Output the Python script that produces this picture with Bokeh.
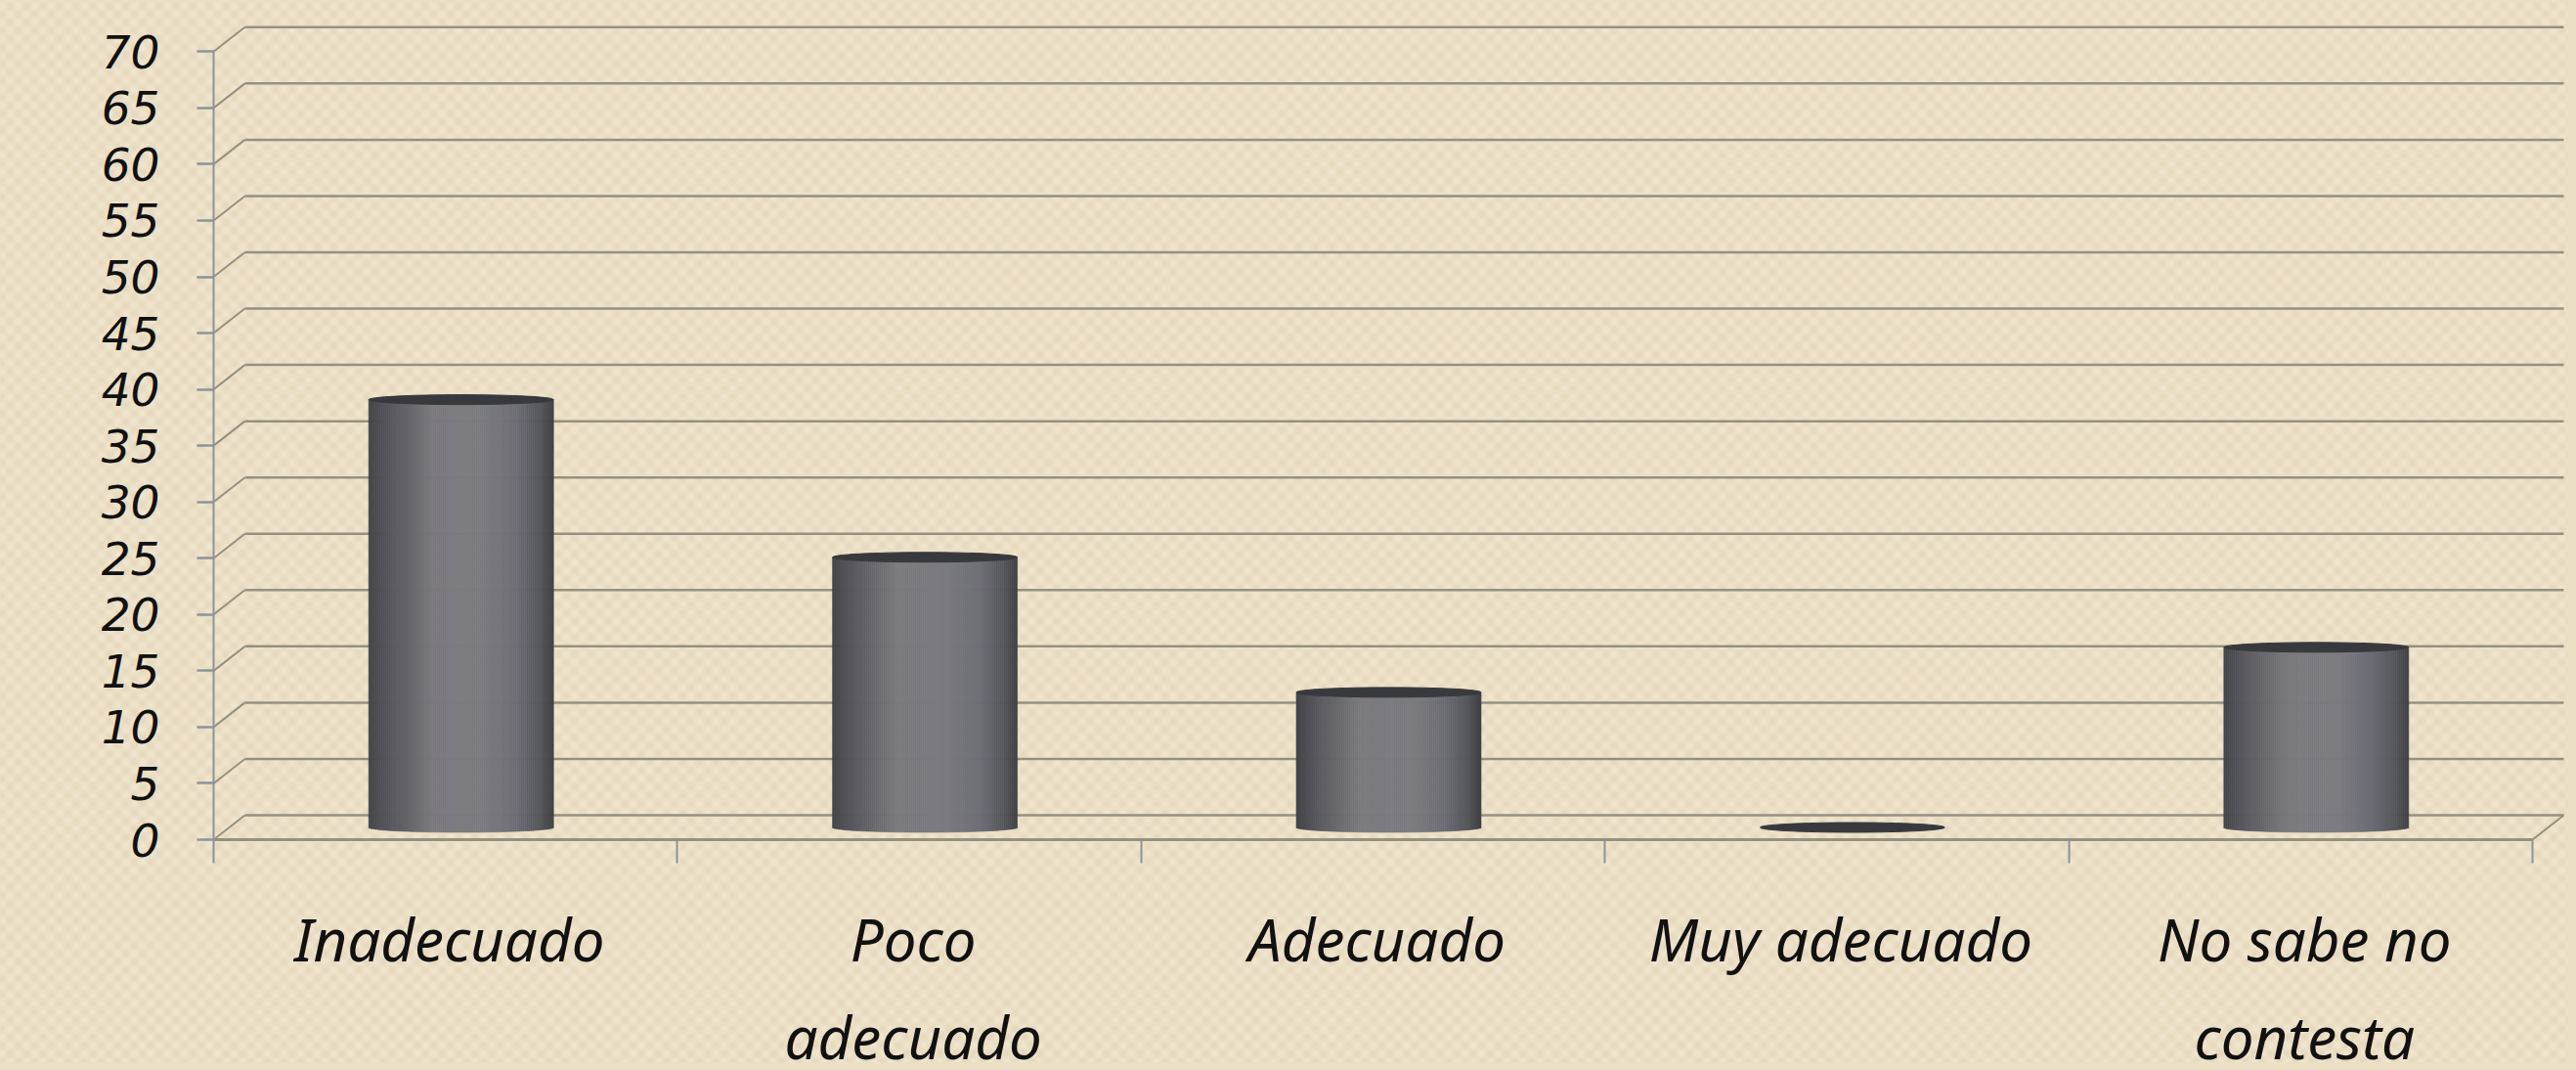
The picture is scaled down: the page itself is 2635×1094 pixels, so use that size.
import numpy as np
from bokeh.plotting import figure
from bokeh.models import LinearAxis, FixedTicker, Range1d
from bokeh.core.properties import value
from bokeh.embed import file_html
from bokeh.resources import INLINE

categories = ["Inadecuado", "Poco\nadecuado", "Adecuado", "Muy adecuado", "No sabe no\ncontesta"]
values = [38, 24, 12, 0, 16]
y_ticks = [0, 5, 10, 15, 20, 25, 30, 35, 40, 45, 50, 55, 60, 65, 70]
x_ticks = [0, 1, 2, 3, 4, 5]

W, H = 2627, 1086
PX_X = 474.4          # pixels per category
PX_Y = 11.51          # pixels per value unit
X0, Y0 = 218, 858     # figure pixel of the origin (y counted from top)
DX = 32 / PX_X        # 3D depth offset, data units
DY = 25 / PX_Y
BAR_W = 189 / PX_X
RY = 5 / PX_Y         # ellipse half-height

BG = "#ebdfc6"
GRID = "#96917f"
AXIS = "#8f9298"

x_lo, x_hi = -X0 / PX_X, (W - X0) / PX_X
y_lo, y_hi = -(H - Y0) / PX_Y, Y0 / PX_Y

p = figure(width=W, height=H, output_backend="svg", toolbar_location=None,
           x_axis_type=None, y_axis_type=None, min_border=0,
           x_range=Range1d(x_lo, x_hi), y_range=Range1d(y_lo, y_hi))
p.outline_line_color = None
p.background_fill_color = BG
p.border_fill_color = BG
p.xgrid.visible = False
p.ygrid.visible = False

# Woven paper texture of the slide background (half resolution, smooth)
STEP, PERIOD = 2, 17.0
ty, tx = np.mgrid[0:H // STEP, 0:W // STEP]
wave = np.cos(2 * np.pi * tx * STEP / PERIOD) * np.cos(2 * np.pi * ty * STEP / PERIOD)
r = (235.5 - 6 * wave).astype(np.uint32)
g = (223.5 - 7 * wave).astype(np.uint32)
b = (198.5 - 9 * wave).astype(np.uint32)
tex = (255 << 24) | (b << 16) | (g << 8) | r
p.image_rgba(image=[tex], x=x_lo, y=y_lo, dw=x_hi - x_lo, dh=y_hi - y_lo, level="underlay")

# 3D walls: back grid lines and left diagonals
xmax = x_ticks[-1]
p.segment(x0=[DX] * len(y_ticks), y0=[v + DY for v in y_ticks],
          x1=[xmax + DX] * len(y_ticks), y1=[v + DY for v in y_ticks],
          line_color=GRID, line_width=2.5)
p.segment(x0=[0] * len(y_ticks), y0=y_ticks, x1=[DX] * len(y_ticks), y1=[v + DY for v in y_ticks],
          line_color=GRID, line_width=2)
p.segment(x0=[xmax], y0=[0], x1=[xmax + DX], y1=[DY], line_color=GRID, line_width=2)

# Axes
yaxis = LinearAxis(ticker=FixedTicker(ticks=y_ticks), fixed_location=0, bounds=(0, 70))
yaxis.axis_line_color = AXIS
yaxis.axis_line_width = 2
yaxis.major_tick_line_color = AXIS
yaxis.major_tick_line_width = 2.5
yaxis.major_tick_out = 17
yaxis.major_tick_in = 0
yaxis.minor_tick_line_color = None
yaxis.major_label_standoff = 38
yaxis.major_label_text_font = "DejaVu Sans"
yaxis.major_label_text_font_style = "italic"
yaxis.major_label_text_font_size = "47px"
yaxis.major_label_text_color = "#111111"
p.add_layout(yaxis, "left")

xaxis = LinearAxis(ticker=FixedTicker(ticks=x_ticks), fixed_location=0, bounds=(0, 5))
xaxis.axis_line_color = GRID
xaxis.axis_line_width = 3
xaxis.major_tick_line_color = AXIS
xaxis.major_tick_line_width = 2
xaxis.major_tick_out = 24
xaxis.major_tick_in = 0
xaxis.minor_tick_line_color = None
xaxis.major_label_text_color = None
p.add_layout(xaxis, "below")

# Cylinders: narrow strips give the shading across the width
STOPS = [(0.0, (66, 67, 72)), (0.12, (88, 88, 94)), (0.35, (122, 121, 126)),
         (0.62, (122, 122, 128)), (0.8, (108, 108, 116)), (0.93, (84, 85, 90)), (1.0, (62, 64, 68))]
def shade(t):
    for (a, ca), (b_, cb) in zip(STOPS, STOPS[1:]):
        if t <= b_:
            f = (t - a) / (b_ - a)
            return "#%02x%02x%02x" % tuple(round(x + (y - x) * f) for x, y in zip(ca, cb))
    return "#3e4044"

N = 95
for i, v in enumerate(values):
    cx = i + 0.5 + DX / 2
    if v > 0:
        L, R, B, T, C = [], [], [], [], []
        for k in range(N):
            t = (k + 0.5) / N
            u = 2 * t - 1
            L.append(cx - BAR_W / 2 + BAR_W * k / N)
            R.append(cx - BAR_W / 2 + BAR_W * (k + 1) / N)
            B.append(DY / 2 - RY * (1 - u * u) ** 0.5)
            T.append(v + DY / 2)
            C.append(shade(t))
        p.quad(left=L, right=R, bottom=B, top=T, fill_color=C, line_color=C, line_width=0.6)
    p.ellipse(x=[cx], y=[v + DY / 2], width=[BAR_W], height=[2 * RY],
              fill_color="#38393d", line_color="#38393d", line_width=1)

# Category labels
p.text(x=[i + 0.5 for i in range(len(categories))], y=[0] * len(categories), text=categories,
       x_offset=4, y_offset=60, text_align="center", text_baseline="top",
       text_font=value("Noto Sans"), text_font_style="italic", text_font_size="60px",
       text_line_height=1.23, text_color="#111111")

html = file_html(p, INLINE)
html = html.replace("<head>", "<head><style>body{background:%s}</style>" % BG, 1)
open("out.html", "w").write(html)
